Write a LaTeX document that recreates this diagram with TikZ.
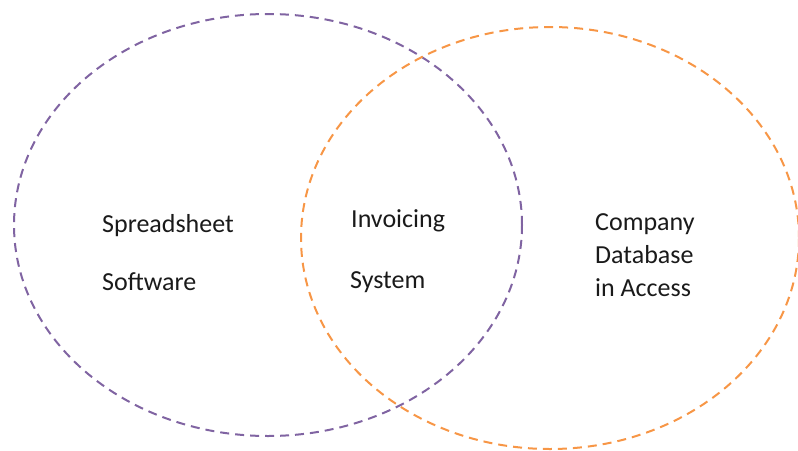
\documentclass[tikz,border=0pt]{standalone}
\usepackage{fontspec}
\setmainfont{Carlito}
\definecolor{vpurple}{HTML}{8064A2}
\definecolor{vorange}{HTML}{F79646}
\definecolor{vtext}{HTML}{1A1A1A}
\begin{document}
\begin{tikzpicture}[x=1pt,y=-1pt,
  ring/.style={line width=2pt, dash pattern=on 9pt off 6pt},
  lbl/.style={anchor=base west, inner sep=0pt, font=\fontsize{26}{30}\selectfont, text=vtext}]
\useasboundingbox (0,0) rectangle (798,450);
\draw[ring, vpurple] (268,225) ellipse [x radius=254, y radius=211];
\draw[ring, vorange] (550,238) ellipse [x radius=249, y radius=211];
\node[lbl] (s1) at (102,232) {Spreadsheet};
\node[lbl] (s2) at (102,290) {Software};
\node[lbl] (i1) at (351,227) {Invoicing};
\node[lbl] (i2) at (350,288) {System};
\node[lbl] (c1) at (595,230) {Company};
\node[lbl] (c2) at (595,263) {Database};
\node[lbl] (c3) at (595,296) {in Access};
\end{tikzpicture}
\end{document}
